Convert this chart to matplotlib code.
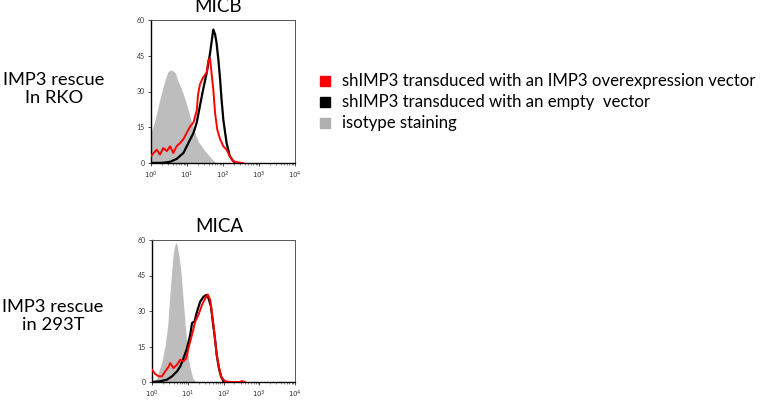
import numpy as np
import matplotlib
matplotlib.use("Agg")
import matplotlib.pyplot as plt
from matplotlib.ticker import LogLocator, NullFormatter

plt.rcParams['font.family'] = ['Lato', 'DejaVu Sans']

# ---------------- data (x given as log10 fluorescence, y as counts) -------------
micb_iso_log = [0, 0.11, 0.25, 0.39, 0.48, 0.57, 0.67, 0.76, 0.85, 0.94, 1.04, 1.13,
                1.22, 1.31, 1.41, 1.50, 1.59, 1.69, 1.78, 1.87]
micb_iso_cnt = [12.6, 18, 27, 35, 38.5, 39, 38, 34, 31, 27, 22, 17, 12.6, 9, 7, 5, 3.5, 1.7, 0.4, 0]

micb_red_log = [0, 0.06, 0.16, 0.25, 0.34, 0.44, 0.53, 0.62, 0.71, 0.81, 0.90, 0.99, 1.09,
                1.18, 1.27, 1.31, 1.36, 1.45, 1.55, 1.59, 1.64, 1.69, 1.73, 1.78, 1.84,
                1.92, 2.01, 2.10, 2.19, 2.29, 2.38, 2.56]
micb_red_cnt = [2.8, 4, 5.6, 3.5, 6.3, 5, 7, 4.2, 7, 8.4, 10, 12.6, 15.4, 17, 22, 29, 33, 36,
                38, 43, 44, 36.5, 31, 21, 14, 10, 7, 5.6, 2.8, 0.7, 0.3, 0]

micb_blk_log = [0, 0.34, 0.53, 0.71, 0.90, 1.09, 1.18, 1.27, 1.36, 1.45, 1.55, 1.64, 1.73,
                1.78, 1.82, 1.87, 1.92, 1.96, 2.01, 2.10, 2.19, 2.29, 2.38]
micb_blk_cnt = [0, 0.1, 0.5, 1.7, 4.2, 10, 12.6, 17, 24, 31, 38, 46, 56, 54, 50.5, 43.5, 35,
                26.6, 18, 8.4, 2.8, 0.7, 0]

mica_iso_log = [0, 0.14, 0.19, 0.28, 0.37, 0.44, 0.49, 0.55, 0.60, 0.66, 0.70, 0.75, 0.81,
                0.86, 0.92, 0.98, 1.03, 1.09, 1.14, 1.21, 1.26]
mica_iso_cnt = [0.5, 1.5, 4.5, 8.7, 15.7, 24, 35, 46.6, 55, 59, 58, 53.7, 46.6, 36.8, 25.6,
                15.7, 8.7, 4.5, 1.7, 0.3, 0]

mica_red_log = [0, 0.09, 0.19, 0.28, 0.37, 0.47, 0.51, 0.60, 0.70, 0.79, 0.88, 0.96, 1.02,
                1.12, 1.21, 1.30, 1.40, 1.49, 1.56, 1.63, 1.67, 1.72, 1.77, 1.81, 1.86,
                1.91, 1.95, 2.05, 2.19, 2.47, 2.51, 2.60]
mica_red_cnt = [5.2, 3.4, 2.4, 2.4, 4.5, 6.6, 8, 5.9, 7.3, 9.4, 8.7, 10, 14.3, 20, 25.6, 28.4,
                32.6, 35.4, 37, 34.7, 29.8, 24, 17, 11.5, 7.3, 3.8, 1.7, 0.3, 0, 0, 0.4, 0]

mica_blk_log = [0, 0.23, 0.42, 0.56, 0.70, 0.79, 0.88, 0.98, 1.07, 1.12, 1.19, 1.26, 1.35,
                1.44, 1.52, 1.58, 1.65, 1.70, 1.76, 1.81, 1.87, 1.93, 2.00, 2.09]
mica_blk_cnt = [0, 0.3, 1, 2.4, 4.5, 6.6, 10, 14.3, 20, 24.9, 25.6, 29.8, 34, 36, 36.8, 35.4,
                31.9, 25.6, 18.5, 11.5, 5.9, 2.4, 0.3, 0]

titles = ["MICB", "MICA"]
row_labels = ["IMP3 rescue\nIn RKO", "IMP3 rescue\nin 293T"]
legend_labels = ["shIMP3 transduced with an IMP3 overexpression vector",
                 "shIMP3 transduced with an empty  vector",
                 "isotype staining"]
y_ticks = [0, 15, 30, 45, 60]
x_ticks = [1, 10, 100, 1000, 10000]
x_ticklabels = [r"$10^0$", r"$10^1$", r"$10^2$", r"$10^3$", r"$10^4$"]

RED = "#ff0000"
BLACK = "#000000"
GRAY = "#bdbdbd"

W, H = 767, 400
fig = plt.figure(figsize=(W / 100, H / 100), dpi=100)

def px_axes(left, top, right, bottom):
    return fig.add_axes([left / W, 1 - bottom / H, (right - left) / W, (bottom - top) / H])

panels = [
    (px_axes(151, 20, 295, 163), micb_iso_log, micb_iso_cnt, micb_red_log, micb_red_cnt,
     micb_blk_log, micb_blk_cnt),
    (px_axes(152, 240, 295, 382), mica_iso_log, mica_iso_cnt, mica_red_log, mica_red_cnt,
     mica_blk_log, mica_blk_cnt),
]

for i, (ax, il, ic, rl, rc, bl, bc) in enumerate(panels):
    ax.fill_between(10 ** np.array(il), ic, 0, color=GRAY, lw=0, zorder=1)
    ax.plot(10 ** np.array(bl), bc, color=BLACK, lw=1.6, zorder=3)
    ax.plot(10 ** np.array(rl), rc, color=RED, lw=1.4, zorder=4)
    ax.set_xscale("log")
    ax.set_xlim(1, 10000)
    ax.set_ylim(0, 60)
    ax.set_yticks(y_ticks)
    ax.set_yticklabels([str(v) for v in y_ticks])
    ax.set_xticks(x_ticks)
    ax.set_xticklabels(x_ticklabels)
    ax.xaxis.set_minor_locator(LogLocator(base=10, subs=np.arange(2, 10), numticks=20))
    ax.xaxis.set_minor_formatter(NullFormatter())
    ax.tick_params(axis="both", which="major", labelsize=5, length=2.5, width=0.6,
                   pad=2, colors="#333333", labelcolor="#333333")
    ax.tick_params(axis="x", which="minor", length=1.5, width=0.4, colors="#333333")
    for s in ["left", "bottom"]:
        ax.spines[s].set_color("black")
        ax.spines[s].set_linewidth(1.0)
    for s in ["top", "right"]:
        ax.spines[s].set_color("#555555")
        ax.spines[s].set_linewidth(0.7)
    ax.set_facecolor("white")

fig.text(218 / W, 1 - 7 / H, titles[0], ha="center", va="center", fontsize=13.5)
fig.text(219 / W, 1 - 227 / H, titles[1], ha="center", va="center", fontsize=13.5)

fig.text(54 / W, 1 - 89 / H, row_labels[0], ha="center", va="center", fontsize=13.2,
         linespacing=1.2)
fig.text(53 / W, 1 - 316 / H, row_labels[1], ha="center", va="center", fontsize=13.2,
         linespacing=1.2)

leg_colors = [RED, BLACK, "#b0b0b0"]
leg_y = [81, 102, 123]
for c, y, lab in zip(leg_colors, leg_y, legend_labels):
    fig.add_artist(plt.Line2D([325 / W], [1 - y / H], transform=fig.transFigure,
                              marker="s", markersize=7, color=c, markeredgecolor=c,
                              linestyle="none"))
    fig.text(342 / W, 1 - y / H, lab, ha="left", va="center", fontsize=12.1)

fig.savefig("out.png", dpi=100, facecolor="white")
